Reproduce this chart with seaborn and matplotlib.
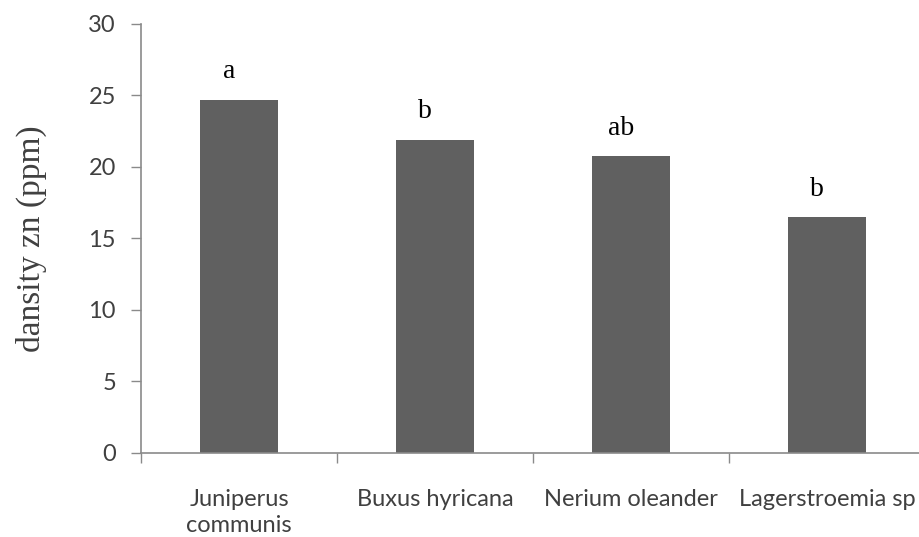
import matplotlib
matplotlib.use("Agg")
import matplotlib.pyplot as plt
import seaborn as sns
import pandas as pd

categories = ["Juniperus\ncommunis", "Buxus hyricana", "Nerium oleander", "Lagerstroemia sp"]
values = [24.7, 21.9, 20.75, 16.5]
letters = ["a", "b", "ab", "b"]
yticks = [0, 5, 10, 15, 20, 25, 30]

sns.set_theme(style="white")
plt.rcParams['font.family'] = ['Lato', 'DejaVu Sans']

df = pd.DataFrame({"species": categories, "zn": values})

fig = plt.figure(figsize=(9.19, 5.37), dpi=100)
W, H = 919, 537
left, right = 141, 925
bottom, top = 452.7, 24
ax = fig.add_axes([left / W, 1 - bottom / H, (right - left) / W, (bottom - top) / H])

sns.barplot(data=df, x="species", y="zn", color="#606060", saturation=1,
            width=0.4, ax=ax, edgecolor="none")

ax.set_xlim(-0.5, 3.5)
ax.set_ylim(0, 30)
ax.set_yticks(yticks)
ax.set_yticklabels([str(t) for t in yticks])

for s in ["top", "right"]:
    ax.spines[s].set_visible(False)
for s in ["left", "bottom"]:
    ax.spines[s].set_color("#8a8a8a")
    ax.spines[s].set_linewidth(1.2)

ax.tick_params(axis="y", which="major", direction="out", length=7, width=1.0,
               color="#8a8a8a", pad=11, labelsize=17, labelcolor="#404040", left=True)
ax.tick_params(axis="x", which="major", length=0, pad=26, labelsize=17,
               labelcolor="#404040")
ax.set_xticks(range(len(categories)))
ax.set_xticks([-0.5, 0.5, 1.5, 2.5], minor=True)
ax.tick_params(axis="x", which="minor", direction="out", length=7, width=1.0,
               color="#8a8a8a", bottom=True)
for lbl in ax.get_xticklabels():
    lbl.set_linespacing(1.3)

for i, (v, l) in enumerate(zip(values, letters)):
    ax.text(i - 0.05, v + 1.95, l, ha="center", va="center",
            family=["Liberation Serif"], fontsize=20, color="black")

ax.set_xlabel("")
ax.set_ylabel("dansity zn (ppm)", family=["Liberation Serif"], fontsize=24,
              color="#404040", labelpad=30)
ax.grid(False)

fig.savefig("out.png", dpi=100)
